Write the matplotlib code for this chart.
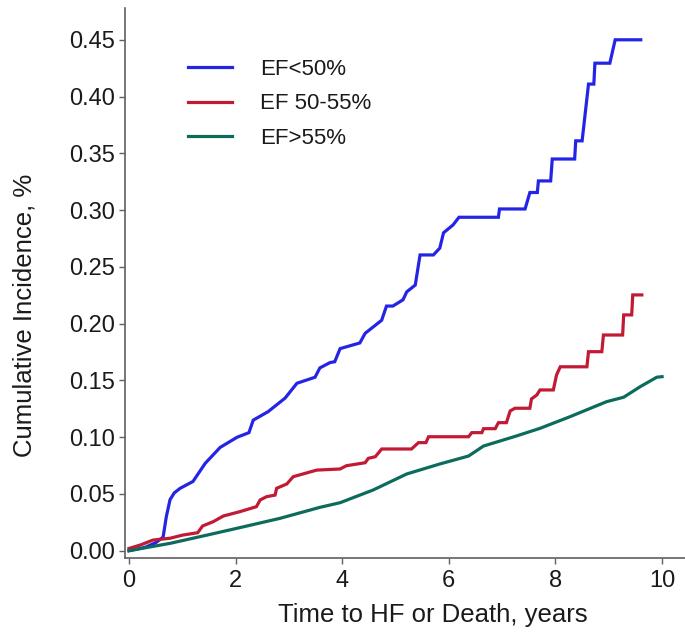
import matplotlib
matplotlib.use("Agg")
import matplotlib.pyplot as plt

plt.rcParams['font.family'] = ['Liberation Sans', 'DejaVu Sans']

labels = ["EF<50%", "EF 50-55%", "EF>55%"]
colors = ["#2424E6", "#C21A35", "#0D6B5B"]

blue_t = [0, 0.3, 0.5, 0.64, 0.7, 0.77, 0.85, 0.96, 1.2, 1.43, 1.71, 2.03, 2.25, 2.33, 2.61,
          2.93, 3.15, 3.49, 3.58, 3.77, 3.86, 3.96, 4.33, 4.43, 4.74, 4.83, 4.95, 5.14, 5.21,
          5.37, 5.46, 5.71, 5.83, 5.9, 6.08, 6.19, 6.93, 6.95, 7.43, 7.52, 7.66, 7.68, 7.91,
          7.94, 8.36, 8.38, 8.5, 8.62, 8.72, 8.74, 9.02, 9.12, 9.6]
blue_y = [0.0, 0.003, 0.007, 0.012, 0.03, 0.045, 0.051, 0.055, 0.061, 0.077, 0.091, 0.100,
          0.104, 0.115, 0.1225, 0.1345, 0.1475, 0.1528, 0.161, 0.1657, 0.1665, 0.178, 0.183,
          0.1915, 0.203, 0.2155, 0.2155, 0.221, 0.228, 0.234, 0.2605, 0.2605, 0.2665, 0.28,
          0.287, 0.2937, 0.2937, 0.301, 0.301, 0.3155, 0.3155, 0.3257, 0.3257, 0.345, 0.345,
          0.361, 0.361, 0.411, 0.411, 0.4294, 0.4294, 0.45, 0.45]

red_t = [0, 0.21, 0.45, 0.77, 1.01, 1.29, 1.38, 1.58, 1.77, 2.08, 2.39, 2.46, 2.58, 2.74, 2.77,
         2.96, 3.08, 3.52, 3.96, 4.08, 4.43, 4.49, 4.62, 4.74, 5.3, 5.43, 5.57, 5.62, 6.37,
         6.43, 6.62, 6.65, 6.87, 6.93, 7.08, 7.15, 7.24, 7.52, 7.55, 7.65, 7.71, 7.96, 8.02,
         8.09, 8.59, 8.62, 8.87, 8.9, 9.26, 9.28, 9.43, 9.45, 9.62]
red_y = [0.002, 0.005, 0.0094, 0.011, 0.0138, 0.0159, 0.0218, 0.0256, 0.0306, 0.0344, 0.0388,
         0.0447, 0.0476, 0.049, 0.055, 0.0588, 0.0652, 0.071, 0.072, 0.0749, 0.0775, 0.0814,
         0.0828, 0.0896, 0.0896, 0.0952, 0.0952, 0.1004, 0.1004, 0.104, 0.104, 0.1075, 0.1075,
         0.1128, 0.1128, 0.1231, 0.1255, 0.1255, 0.1337, 0.1372, 0.1416, 0.1416, 0.1548,
         0.162, 0.162, 0.1753, 0.1753, 0.19, 0.19, 0.2077, 0.2077, 0.2253, 0.2253]

green_t = [0, 0.77, 1.39, 2.02, 2.83, 3.58, 3.96, 4.58, 5.21, 5.83, 6.37, 6.65, 7.27, 7.71,
           8.27, 8.96, 9.28, 9.59, 9.9, 10.0]
green_y = [0.0, 0.0065, 0.013, 0.0197, 0.0285, 0.0382, 0.0423, 0.0535, 0.0676, 0.0764,
           0.0834, 0.0922, 0.1011, 0.1078, 0.118, 0.1313, 0.1352, 0.1445, 0.1528, 0.1533]

xticks = [0, 2, 4, 6, 8, 10]
yticks = [0.00, 0.05, 0.10, 0.15, 0.20, 0.25, 0.30, 0.35, 0.40, 0.45]

fig = plt.figure(figsize=(6.85, 6.37), dpi=100)
ax = fig.add_axes([125 / 685, 79 / 637, 560 / 685, 550 / 637])

for t, y, c, lab in zip([blue_t, red_t, green_t], [blue_y, red_y, green_y], colors, labels):
    ax.plot(t, y, color=c, lw=2.3, label=lab, solid_joinstyle='miter')

ax.set_xlim(-0.075, 10.43)
ax.set_ylim(-0.0064, 0.478)
ax.set_xticks(xticks)
ax.set_xticklabels([str(v) for v in xticks])
ax.set_yticks(yticks)
ax.set_yticklabels([f"{v:.2f}" for v in yticks])

for s in ['top', 'right']:
    ax.spines[s].set_visible(False)
for s in ['left', 'bottom']:
    ax.spines[s].set_color('#606060')
    ax.spines[s].set_linewidth(1.2)

ax.tick_params(axis='both', colors='#606060', labelcolor='#1a1a1a', length=4.5, width=1.0,
               labelsize=17)
ax.tick_params(axis='x', pad=4)
ax.tick_params(axis='y', pad=2.5)

ax.set_xlabel("Time to HF or Death, years", fontsize=18.5, color='#1a1a1a')
ax.set_ylabel("Cumulative Incidence, %", fontsize=18.5, color='#1a1a1a')
ax.xaxis.set_label_coords(0.55, -0.082)
ax.yaxis.set_label_coords(-0.158, 0.442)

leg = ax.legend(loc='upper left', bbox_to_anchor=(188 / 685, 1 - 59 / 637),
                bbox_transform=fig.transFigure, frameon=False, fontsize=16,
                handlelength=2.0, handletextpad=1.25, labelspacing=0.6,
                borderpad=0, borderaxespad=0)
for txt in leg.get_texts():
    txt.set_color('#1a1a1a')

fig.savefig("out.png", dpi=100)
